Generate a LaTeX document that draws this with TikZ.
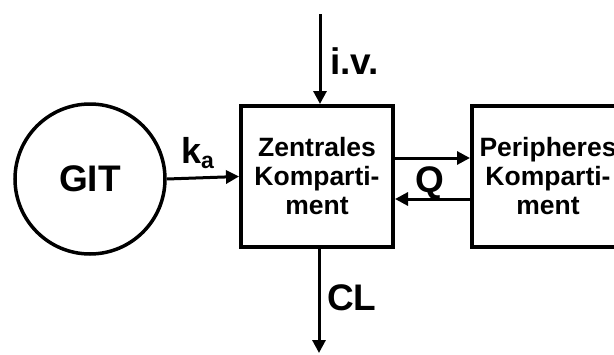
\documentclass[tikz,border=0pt]{standalone}
\usepackage{fontspec}
\setmainfont{Liberation Sans}
\usetikzlibrary{arrows.meta}
\tikzset{
  comp/.style={draw, line width=4pt, rectangle, minimum width=152pt, minimum height=141pt, inner sep=0pt, align=center, font=\bfseries\fontsize{26.5}{29}\selectfont},
  arr/.style={line width=3pt, -{Triangle[length=13pt,width=13pt]}},
  lbl/.style={inner sep=0pt, anchor=base west, font=\bfseries\fontsize{37}{37}\selectfont}
}
\begin{document}
\begin{tikzpicture}[x=1pt,y=-1pt]
\useasboundingbox (0,0) rectangle (614,354);
\clip (0,0) rectangle (614,354);
\fill[white] (0,0) rectangle (614,354);
\node[draw, circle, line width=3.5pt, minimum size=150pt, inner sep=0pt, font=\bfseries\fontsize{37}{37}\selectfont] (git) at (90,179) {GIT};
\node[comp] (cen) at (317,176.5) {Zentrales\\Komparti-\\ment};
\node[comp] (per) at (548,176.5) {Peripheres\\Komparti-\\ment};
\coordinate (ivs) at (320,14);
\coordinate (cle) at (319,353);
\draw[arr] (git.east) -- (cen.west);
\draw[arr] (ivs) -- (ivs |- cen.north);
\draw[arr] (cen.south -| cle) -- (cle);
\draw[arr] ([yshift=18.5pt]cen.east) -- ([yshift=18.5pt]per.west);
\draw[arr] ([yshift=-22.5pt]per.west) -- ([yshift=-22.5pt]cen.east);
\node[lbl] (iv) at (330,74) {i.v.};
\node[lbl] (cl) at (327,310) {CL};
\node[lbl] (q) at (415,192) {Q};
\node[lbl, font=\bfseries\fontsize{36}{36}\selectfont] (ka) at (181,163) {k\raisebox{-5pt}{\fontsize{23}{23}\selectfont a}};
\end{tikzpicture}
\end{document}
